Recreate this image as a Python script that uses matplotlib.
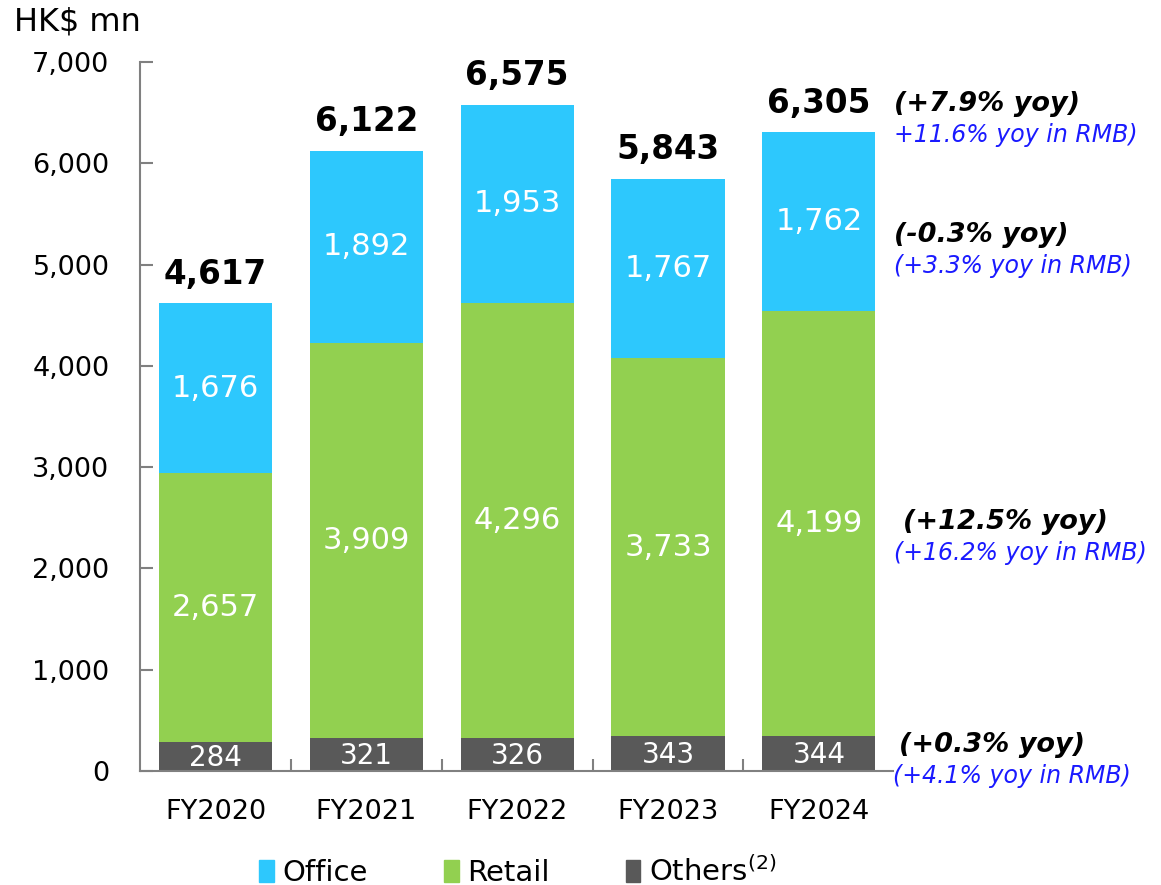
import matplotlib
matplotlib.use("Agg")
import matplotlib.pyplot as plt
from matplotlib.patches import Patch

years = ["FY2020", "FY2021", "FY2022", "FY2023", "FY2024"]
others = [284, 321, 326, 343, 344]
retail = [2657, 3909, 4296, 3733, 4199]
office = [1676, 1892, 1953, 1767, 1762]
totals = [4617, 6122, 6575, 5843, 6305]

yoy_hkd = ["(+7.9% yoy)", "(-0.3% yoy)", "(+12.5% yoy)", "(+0.3% yoy)"]
yoy_rmb = ["+11.6% yoy in RMB)", "(+3.3% yoy in RMB)", "(+16.2% yoy in RMB)", "(+4.1% yoy in RMB)"]

c_office = "#2DC8FD"
c_retail = "#92D050"
c_others = "#595959"

plt.rcParams["font.family"] = "DejaVu Sans"
fig = plt.figure(figsize=(11.61, 8.85), dpi=100)
ax = fig.add_axes([0.1206, 0.1288, 0.6484, 0.8012])

x = list(range(len(years)))
w = 0.75
ax.bar(x, others, w, color=c_others)
ax.bar(x, retail, w, bottom=others, color=c_retail)
base2 = [o + r for o, r in zip(others, retail)]
ax.bar(x, office, w, bottom=base2, color=c_office)

for i in x:
    ax.text(i, others[i] / 2 - 10, f"{others[i]:,}", ha="center", va="center", color="white", fontsize=20)
    ax.text(i, others[i] + retail[i] / 2, f"{retail[i]:,}", ha="center", va="center", color="white", fontsize=22)
    ax.text(i, base2[i] + office[i] / 2, f"{office[i]:,}", ha="center", va="center", color="white", fontsize=22)
    ax.annotate(f"{totals[i]:,}", (i, totals[i]), xytext=(0, 21), textcoords="offset points",
                ha="center", va="center", fontsize=23.5, fontweight="bold")

# yoy comments on the right
ann_y = [6580, 5290, 2455, 255]
ann_dx = [4.50, 4.50, 4.56, 4.53]
rmb_dx = [4.50, 4.50, 4.50, 4.49]
for k in range(4):
    ax.text(ann_dx[k], ann_y[k], yoy_hkd[k], fontsize=19.5, fontweight="bold", style="italic",
            ha="left", va="center", clip_on=False)
    ax.text(rmb_dx[k], ann_y[k] - 300, yoy_rmb[k], fontsize=17, style="italic", color="#1A1AFF",
            ha="left", va="center", clip_on=False)

ax.set_xlim(-0.5, 4.49)
ax.set_ylim(0, 7000)
ax.set_xticks(x)
ax.set_xticklabels(years, fontsize=19.5)
ax.set_xticks([0.5, 1.5, 2.5, 3.5], minor=True)
ax.set_yticks(range(0, 7001, 1000))
ax.set_yticklabels([f"{v:,}" for v in range(0, 7001, 1000)], fontsize=19.5)
ax.tick_params(axis="x", which="major", length=0, pad=20)
ax.tick_params(axis="x", which="minor", direction="in", length=9, width=1.5, color="#808080")
ax.tick_params(axis="y", direction="in", length=9, width=1.5, color="#808080", pad=22)
for s in ["top", "right"]:
    ax.spines[s].set_visible(False)
for s in ["left", "bottom"]:
    ax.spines[s].set_color("#808080")
    ax.spines[s].set_linewidth(1.5)

fig.text(0.012, 0.975, "HK$ mn", fontsize=23, va="center", ha="left")

handles = [Patch(color=c_office, label="Office"), Patch(color=c_retail, label="Retail"),
           Patch(color=c_others, label="Others$^{(2)}$")]
fig.legend(handles=handles, loc="center", bbox_to_anchor=(0.446, 0.015), ncol=3, frameon=False,
           fontsize=21, handlelength=0.5, handleheight=0.75, handletextpad=0.3, columnspacing=2.6)

fig.savefig("out.png", dpi=100)
